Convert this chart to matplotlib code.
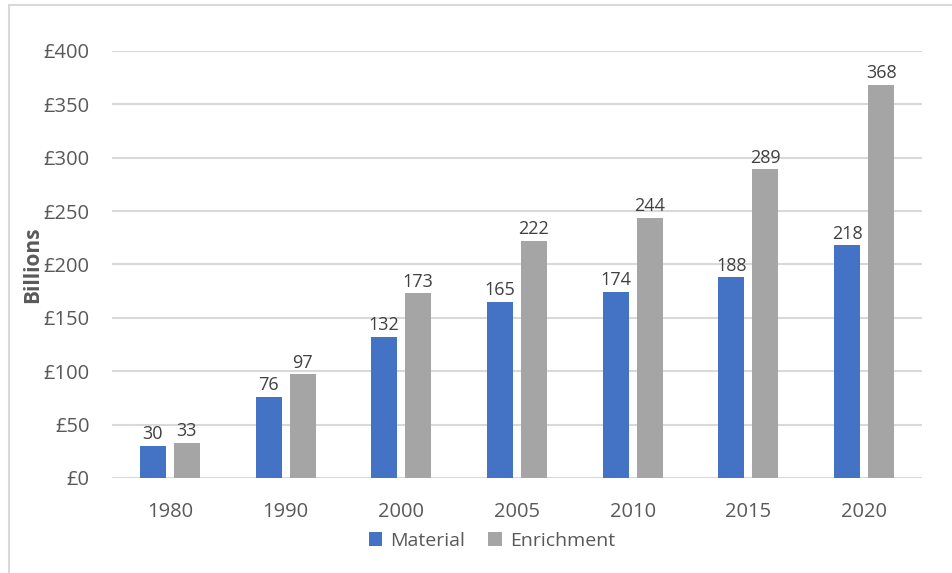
import matplotlib.pyplot as plt
import numpy as np
from matplotlib.patches import Rectangle

years = ['1980', '1990', '2000', '2005', '2010', '2015', '2020']
material = [30, 76, 132, 165, 174, 188, 218]
enrichment = [33, 97, 173, 222, 244, 289, 368]
y_ticks = [0, 50, 100, 150, 200, 250, 300, 350, 400]

plt.rcParams['font.family'] = ['Open Sans', 'DejaVu Sans']

fig = plt.figure(figsize=(9.52, 5.73), dpi=100)
ax = fig.add_axes([0.1176, 0.1658, 0.8509, 0.7452])

# outer chart border (runs off the right and bottom edges)
fig.patches.append(Rectangle((9 / 952, -0.05), 1.1, 1 - 5 / 573 + 0.05,
                             transform=fig.transFigure, fill=False,
                             edgecolor='#D9D9D9', linewidth=1.5))

x = np.arange(len(years))
w = 0.225
off = 0.147
b1 = ax.bar(x - off, material, w, color='#4472C4', label='Material', zorder=3)
b2 = ax.bar(x + off, enrichment, w, color='#A5A5A5', label='Enrichment', zorder=3)

for bars in (b1, b2):
    ax.bar_label(bars, padding=2, fontsize=13, color='#404040')

ax.set_xlim(-0.5, len(years) - 0.5)
ax.set_ylim(0, 400)
ax.set_yticks(y_ticks)
ax.set_yticklabels(['£{}'.format(v) for v in y_ticks])
ax.set_xticks(x)
ax.set_xticklabels(years)
ax.tick_params(axis='both', length=0, labelsize=14.5, colors='#595959')
ax.tick_params(axis='y', pad=16)
ax.tick_params(axis='x', pad=17)

ax.grid(axis='y', color='#D9D9D9', linewidth=1.5, zorder=0)
for s in ax.spines.values():
    s.set_visible(False)

ax.set_ylabel('Billions', fontsize=15, fontweight='bold', color='#595959')
ax.yaxis.set_label_coords(-0.085, 0.5)

ax.legend(loc='upper center', bbox_to_anchor=(0.469, -0.085), ncol=2, frameon=False,
          fontsize=14, labelcolor='#595959', handlelength=0.7, handleheight=0.7,
          handletextpad=0.4, columnspacing=1.2)

fig.savefig('out.png', dpi=100)
